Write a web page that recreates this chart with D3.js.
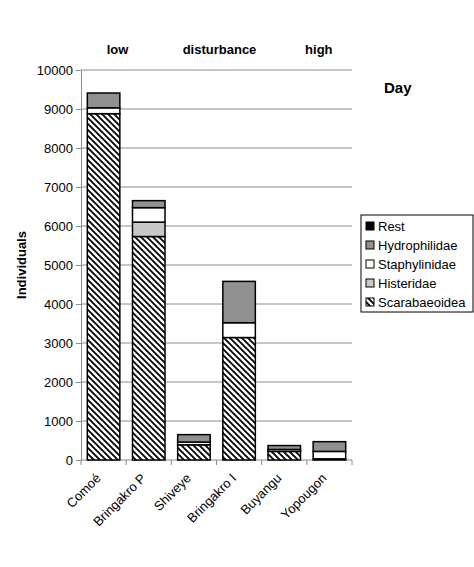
<!DOCTYPE html>
<html><head><meta charset="utf-8">
<script src="https://cdnjs.cloudflare.com/ajax/libs/d3/7.8.5/d3.min.js"></script>
<style>body{margin:0;background:#fff;} svg{display:block;font-family:"Liberation Sans",Arial,sans-serif;}</style>
</head><body><svg id="c" width="474" height="567"></svg>
<script>
const sites = ["Comoé","Bringakro P","Shiveye","Bringakro I","Buyangu","Yopougon"];
const seriesNames = ["Scarabaeoidea","Histeridae","Staphylinidae","Hydrophilidae","Rest"];
const scarabaeoidea = [8880, 5730, 390, 3140, 220, 30];
const histeridae    = [0, 370, 0, 0, 0, 0];
const staphylinidae = [150, 370, 70, 380, 50, 190];
const hydrophilidae = [380, 180, 190, 1060, 100, 250];
const rest          = [0, 0, 0, 0, 0, 0];
const yTicks = [0,1000,2000,3000,4000,5000,6000,7000,8000,9000,10000];
const topLabels = ["low","disturbance","high"];

const fills = {Scarabaeoidea:"url(#hatch)", Histeridae:"#c8c8c8", Staphylinidae:"#ffffff", Hydrophilidae:"#909090", Rest:"#000000"};
const legendOrder = ["Rest","Hydrophilidae","Staphylinidae","Histeridae","Scarabaeoidea"];

const rows = sites.map((s,i)=>({site:s, Scarabaeoidea:scarabaeoidea[i], Histeridae:histeridae[i], Staphylinidae:staphylinidae[i], Hydrophilidae:hydrophilidae[i], Rest:rest[i]}));
const stack = d3.stack().keys(seriesNames)(rows);

const svg = d3.select("#c");
const defs = svg.append("defs");
const pat = defs.append("pattern").attr("id","hatch").attr("patternUnits","userSpaceOnUse").attr("width",6).attr("height",6);
pat.append("rect").attr("width",6).attr("height",6).attr("fill","#fff");
pat.append("path").attr("d","M-1,-1 L7,7 M-4,2 L2,8 M4,-2 L10,4").attr("stroke","#000").attr("stroke-width",1.8);

const L=81, R=352, T=70, B=460;
const x = d3.scaleBand().domain(sites).range([L,R]).paddingInner(0.28).paddingOuter(0.14);
const y = d3.scaleLinear().domain([0,10000]).range([B,T]);

// grid
svg.append("g").selectAll("line").data(yTicks.filter(d=>d>0)).join("line")
  .attr("x1",L).attr("x2",R).attr("y1",d=>y(d)).attr("y2",d=>y(d)).attr("stroke","#8c8c8c").attr("stroke-width",1);

// y axis
const ya = svg.append("g").attr("transform",`translate(${L},0)`).call(d3.axisLeft(y).tickValues(yTicks).tickSize(5).tickPadding(3).tickFormat(d3.format("d")));
ya.select(".domain").attr("stroke","#8c8c8c");
ya.selectAll(".tick line").attr("stroke","#8c8c8c");
ya.selectAll("text").attr("font-size",13).attr("fill","#000").attr("font-family","Liberation Sans, Arial, sans-serif");

// x axis
svg.append("line").attr("x1",L).attr("x2",R).attr("y1",B).attr("y2",B).attr("stroke","#8c8c8c");
const bounds = d3.range(sites.length+1).map(i=> i<sites.length ? x(sites[i]) - x.step()*x.paddingInner()/2 : R);
bounds[0]=L;
svg.append("g").selectAll("line").data(bounds).join("line")
  .attr("x1",d=>d).attr("x2",d=>d).attr("y1",B).attr("y2",B+5).attr("stroke","#8c8c8c");

// bars
svg.append("g").selectAll("g").data(stack).join("g")
  .attr("fill",d=>fills[d.key])
  .selectAll("rect").data(d=>d.filter(e=>e[1]-e[0]>0)).join("rect")
  .attr("x",d=>x(d.data.site)).attr("width",x.bandwidth())
  .attr("y",d=>y(d[1])).attr("height",d=>y(d[0])-y(d[1]))
  .attr("stroke","#000").attr("stroke-width",1.5);

// category labels
svg.append("g").selectAll("text").data(sites).join("text")
  .attr("transform",d=>`translate(${x(d)+x.bandwidth()/2-2},${B+19}) rotate(-45)`)
  .attr("text-anchor","end").attr("font-size",13).text(d=>d);

// top labels
const c = i => x(sites[i]) + x.bandwidth()/2;
const tl = [c(0)+14, (c(2)+c(3))/2 + 3, (c(4)+c(5))/2 + 12];
svg.append("g").selectAll("text").data(topLabels).join("text")
  .attr("x",(d,i)=>tl[i]).attr("y",54).attr("text-anchor","middle").attr("font-size",13).attr("font-weight","bold").text(d=>d);

// y label
svg.append("text").attr("transform",`translate(26,${(T+B)/2}) rotate(-90)`).attr("text-anchor","middle")
  .attr("font-size",13).attr("font-weight","bold").text("Individuals");

// title
svg.append("text").attr("x",384).attr("y",93).attr("font-size",15).attr("font-weight","bold").text("Day");

// legend
const lg = svg.append("g").attr("transform","translate(361,215)");
lg.append("rect").attr("width",112).attr("height",97).attr("fill","#fff").attr("stroke","#000").attr("stroke-width",1);
const li = lg.selectAll("g").data(legendOrder).join("g").attr("transform",(d,i)=>`translate(5,${11+i*19})`);
li.append("rect").attr("x",0).attr("y",-4).attr("width",8).attr("height",8).attr("fill",d=>fills[d]).attr("stroke","#000").attr("stroke-width",1);
li.append("text").attr("x",12).attr("y",5).attr("font-size",13).text(d=>d);
</script></body></html>
